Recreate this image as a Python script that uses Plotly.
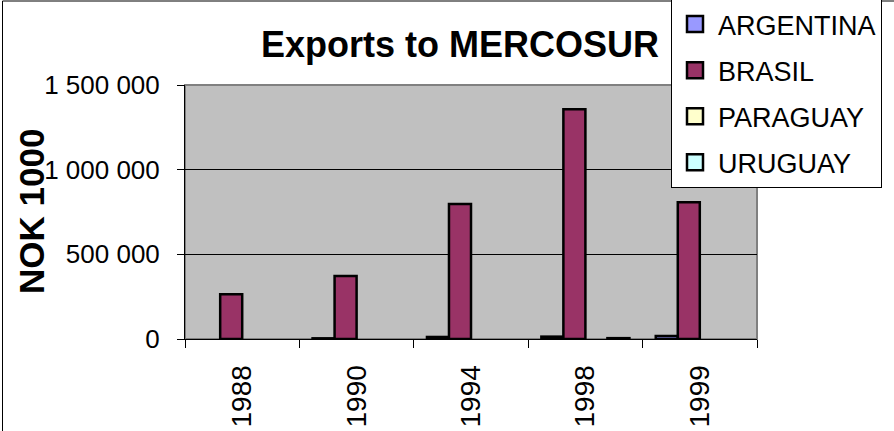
import plotly.graph_objects as go

# Export values, NOK 1000 (None = no exports recorded)
years = ["1988", "1990", "1994", "1998", "1999"]
argentina = [None, 4000, 12000, 14000, 18000]
brasil = [265000, 372000, 797000, 1357000, 808000]
paraguay = [None, None, None, None, None]
uruguay = [None, None, None, 5000, None]

series = [
    ("ARGENTINA", argentina, "#9999FF"),
    ("BRASIL", brasil, "#993366"),
    ("PARAGUAY", paraguay, "#FFFFCC"),
    ("URUGUAY", uruguay, "#CCFFFF"),
]

W, H = 894, 431
L, R, T, B = 185, 137, 85, 92
PW, PH = W - L - R, H - T - B


def px_x(x):
    return (x - L) / PW


def px_y(y):
    return (H - B - y) / PH


FONT = "Arial, Liberation Sans, sans-serif"

fig = go.Figure()
for i, (name, vals, color) in enumerate(series):
    fig.add_trace(go.Bar(
        x=years, y=vals, name=name, legendgroup=f"g{i}", showlegend=False,
        marker=dict(color=color, line=dict(color="black", width=2.5)),
    ))
    # larger square swatch for the legend entry
    fig.add_trace(go.Scatter(
        x=[None], y=[None], name=name, legendgroup=f"g{i}", mode="markers",
        marker=dict(symbol="square", size=16, color=color,
                    line=dict(color="black", width=2.5)),
    ))

fig.update_layout(
    width=W, height=H,
    margin=dict(l=L, r=R, t=T, b=B, autoexpand=False),
    paper_bgcolor="white",
    plot_bgcolor="#C0C0C0",
    barmode="group", bargap=0.23, bargroupgap=0,
    separators=", ",
    font=dict(family=FONT, size=25, color="black"),
    title=dict(text="Exports to MERCOSUR", x=px_x(460), xref="paper", xanchor="center",
               y=1 - 44 / H, yref="container", yanchor="middle",
               font=dict(family=FONT, size=36, weight="bold", color="black")),
    showlegend=True,
    legend=dict(x=px_x(671), y=px_y(-1), xanchor="left", yanchor="top",
                bgcolor="white", bordercolor="black", borderwidth=1,
                font=dict(family=FONT, size=27, color="black"),
                tracegroupgap=8, traceorder="grouped", entrywidth=215,
                itemwidth=36, itemsizing="trace"),
)

fig.update_xaxes(
    type="category", tickson="boundaries", ticks="outside", ticklen=8,
    tickcolor="black", tickwidth=1, showline=True, linecolor="black", linewidth=1,
    tickangle=-90, ticklabelstandoff=14, showgrid=False,
    tickfont=dict(family=FONT, size=28, color="black"),
)
fig.update_yaxes(
    range=[0, 1500000], dtick=500000, tick0=0, tickformat=",d",
    ticks="outside", ticklen=7, tickcolor="black", tickwidth=1,
    showline=True, linecolor="black", linewidth=1,
    showgrid=True, gridcolor="black", gridwidth=1, zeroline=False,
    ticklabelstandoff=12,
    tickfont=dict(family=FONT, size=26, color="black"),
)

# plot-area frame
fig.add_shape(type="rect", xref="paper", yref="paper", x0=0, x1=1, y0=0, y1=1,
              line=dict(color="#808080", width=2), layer="between")
# chart frame
fig.add_shape(type="rect", xref="paper", yref="paper",
              x0=px_x(2.5), x1=px_x(W + 10), y0=px_y(H + 10), y1=px_y(1),
              line=dict(color="black", width=1), layer="above")

fig.add_annotation(text="NOK 1000", xref="paper", yref="paper",
                   x=px_x(31), y=px_y(212), xanchor="center", yanchor="middle",
                   textangle=-90, showarrow=False,
                   font=dict(family=FONT, size=35, weight="bold", color="black"))

fig.write_html("out.html")
